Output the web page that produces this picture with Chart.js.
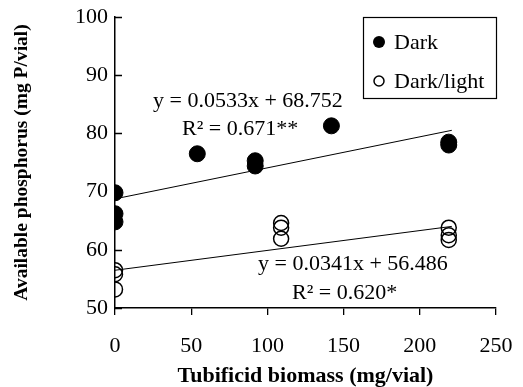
<!DOCTYPE html>
<html>
<head>
<meta charset="utf-8">
<script src="https://cdn.jsdelivr.net/npm/chart.js@4/dist/chart.umd.min.js"></script>
<style>
html,body{margin:0;padding:0;background:#fff;}
#wrap{width:523px;height:387px;}
</style>
</head>
<body>
<div id="wrap"><canvas id="c" width="523" height="387"></canvas></div>
<script>
// Data
const darkX = [0, 0, 0, 54, 92, 92, 142, 219, 219];
const darkY = [69.8, 66.2, 64.8, 76.5, 75.3, 74.4, 81.3, 78.5, 78.0];
const lightX = [0, 0, 0, 109, 109, 109, 219, 219, 219];
const lightY = [56.5, 55.8, 53.2, 64.6, 63.8, 61.9, 63.8, 62.5, 61.7];
const darkFitX = [0, 221];
const darkFitY = [68.752, 80.53];
const lightFitX = [0, 221];
const lightFitY = [56.486, 64.02];
const xTicks = [0, 50, 100, 150, 200, 250];
const yTicks = [50, 60, 70, 80, 90, 100];
const seriesNames = ['Dark', 'Dark/light'];
const eqDark = ['y = 0.0533x + 68.752', 'R² = 0.671**'];
const eqLight = ['y = 0.0341x + 56.486', 'R² = 0.620*'];

const pts = (xs, ys) => xs.map((x, i) => ({x: x, y: ys[i]}));
const SERIF = '"Liberation Serif", "Times New Roman", serif';
const noPad = s => { s.paddingLeft = 0; s.paddingRight = 0; s.paddingTop = 0; s.paddingBottom = 0; };

const overlay = {
  id: 'overlay',
  afterDraw(chart) {
    const ctx = chart.ctx;
    const ys = chart.scales.y;
    ctx.save();
    ctx.fillStyle = '#000';
    ctx.strokeStyle = '#000';
    // inward y tick marks
    ctx.lineWidth = 1.3;
    ctx.beginPath();
    yTicks.forEach(v => {
      const py = Math.round(ys.getPixelForValue(v)) + 0.5;
      ctx.moveTo(ys.right, py);
      ctx.lineTo(ys.right + 7, py);
    });
    ctx.stroke();
    ctx.font = '22px ' + SERIF;
    ctx.textBaseline = 'middle';
    ctx.textAlign = 'left';
    // equation labels
    ctx.fillText(eqDark[0], 153, 101);
    ctx.fillText(eqDark[1], 182, 129);
    ctx.fillText(eqLight[0], 258, 264);
    ctx.fillText(eqLight[1], 292, 293);
    // legend box
    ctx.lineWidth = 1.2;
    ctx.strokeRect(363.5, 17.5, 133, 81);
    ctx.beginPath();
    ctx.arc(379, 42, 6, 0, Math.PI * 2);
    ctx.fill();
    ctx.beginPath();
    ctx.lineWidth = 1.5;
    ctx.arc(379, 81, 5, 0, Math.PI * 2);
    ctx.stroke();
    ctx.fillText(seriesNames[0], 394, 43);
    ctx.fillText(seriesNames[1], 394, 82);
    ctx.restore();
  }
};

new Chart(document.getElementById('c'), {
  type: 'scatter',
  data: {
    datasets: [
      {label: seriesNames[0], data: pts(darkX, darkY), pointStyle: 'circle', pointRadius: 8,
       backgroundColor: '#000', borderColor: '#000', borderWidth: 1, order: 1},
      {label: seriesNames[1], data: pts(lightX, lightY), pointStyle: 'circle', pointRadius: 7.5,
       backgroundColor: 'rgba(0,0,0,0)', borderColor: '#000', borderWidth: 1.5, order: 1},
      {label: 'fitDark', type: 'line', data: pts(darkFitX, darkFitY), showLine: true, pointRadius: 0,
       borderColor: '#000', borderWidth: 1, fill: false, order: 2},
      {label: 'fitLight', type: 'line', data: pts(lightFitX, lightFitY), showLine: true, pointRadius: 0,
       borderColor: '#000', borderWidth: 1, fill: false, order: 2}
    ]
  },
  options: {
    responsive: false,
    animation: false,
    events: [],
    layout: {padding: {left: 0, top: 17, right: 27, bottom: 0}},
    plugins: {legend: {display: false}, tooltip: {enabled: false}},
    scales: {
      x: {
        type: 'linear', min: 0, max: 250,
        afterFit(s) { s.height = 79; noPad(s); },
        afterBuildTicks(s) { s.ticks = xTicks.map(v => ({value: v})); },
        grid: {display: true, drawOnChartArea: false, drawTicks: true, tickLength: 7, color: '#000', lineWidth: 1.3},
        border: {display: true, color: '#000', width: 1.5},
        ticks: {color: '#000', font: {family: SERIF, size: 22}, padding: 18, maxRotation: 0},
        title: {display: true, text: 'Tubificid biomass (mg/vial)', color: '#000',
                font: {family: SERIF, size: 22, weight: 'bold'}, padding: {top: 0, bottom: -3}}
      },
      y: {
        type: 'linear', min: 50, max: 100,
        afterFit(s) { s.width = 115; noPad(s); },
        afterBuildTicks(s) { s.ticks = yTicks.map(v => ({value: v})); },
        grid: {display: false, drawOnChartArea: false, drawTicks: false},
        border: {display: true, color: '#000', width: 1.5},
        ticks: {color: '#000', font: {family: SERIF, size: 22}, padding: 7},
        title: {display: true, text: 'Available phosphorus (mg P/vial)', color: '#000',
                font: {family: SERIF, size: 19.5, weight: 'bold'}, padding: {top: 10, bottom: 0}}
      }
    }
  },
  plugins: [overlay]
});
</script>
</body>
</html>
